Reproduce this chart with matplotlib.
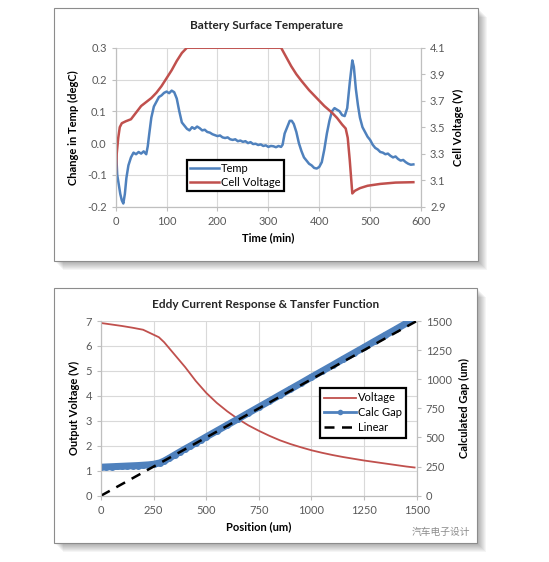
import matplotlib.pyplot as plt
from matplotlib.patches import Rectangle

# ---- data: battery surface temperature ----
temp_t = [0, 3, 6, 9, 12, 15, 18, 21, 25, 30, 35, 40, 45, 50, 55, 60, 63, 66, 70, 75,
          80, 85, 90, 95, 100, 105, 110, 115, 120, 125, 130, 135, 140, 145, 150, 155,
          160, 165, 170, 175, 180, 185, 190, 195, 200, 205, 210, 215, 220, 225, 230,
          235, 240, 245, 250, 255, 260, 265, 270, 275, 280, 285, 290, 295, 300, 305,
          310, 315, 320, 325, 328, 332, 337, 342, 346, 350, 355, 360, 365, 370, 375,
          380, 385, 390, 395, 400, 405, 410, 415, 420, 425, 430, 435, 440, 445, 450,
          455, 460, 465, 468, 472, 476, 480, 485, 490, 495, 500, 505, 510, 515, 520,
          525, 530, 535, 540, 545, 550, 555, 560, 565, 570, 575, 580, 585]
temp_v = [0.00, -0.10, -0.13, -0.16, -0.18, -0.19, -0.16, -0.11, -0.07, -0.045, -0.03,
          -0.035, -0.028, -0.033, -0.026, -0.035, -0.01, 0.03, 0.08, 0.115, 0.13, 0.145,
          0.15, 0.158, 0.162, 0.157, 0.165, 0.16, 0.14, 0.10, 0.065, 0.055, 0.045, 0.04,
          0.05, 0.045, 0.052, 0.047, 0.04, 0.042, 0.035, 0.033, 0.028, 0.025, 0.022,
          0.024, 0.018, 0.016, 0.018, 0.012, 0.01, 0.012, 0.006, 0.008, 0.004, 0.006,
          0.0, 0.003, -0.003, -0.002, -0.006, -0.004, -0.009, -0.007, -0.012, -0.009,
          -0.01, -0.013, -0.009, -0.012, -0.005, 0.03, 0.05, 0.07, 0.07, 0.06, 0.035,
          0.0, -0.025, -0.045, -0.055, -0.065, -0.07, -0.078, -0.08, -0.075, -0.06,
          -0.02, 0.03, 0.07, 0.10, 0.11, 0.105, 0.10, 0.088, 0.085, 0.11, 0.19, 0.26,
          0.24, 0.17, 0.12, 0.08, 0.05, 0.035, 0.02, 0.01, -0.005, -0.015, -0.02,
          -0.028, -0.03, -0.035, -0.033, -0.04, -0.045, -0.042, -0.05, -0.055, -0.053,
          -0.06, -0.065, -0.068, -0.067]

volt_t = [0, 2, 5, 8, 12, 20, 30, 40, 50, 60, 70, 80, 90, 100, 110, 120, 130, 140, 325,
          335, 345, 355, 365, 380, 395, 410, 425, 435, 445, 452, 456, 460, 463, 465,
          470, 480, 495, 520, 550, 585]
volt_v = [3.12, 3.3, 3.42, 3.5, 3.53, 3.545, 3.56, 3.61, 3.66, 3.69, 3.72, 3.76, 3.81,
          3.87, 3.93, 4.0, 4.06, 4.1, 4.1, 4.03, 3.96, 3.9, 3.85, 3.78, 3.72, 3.66, 3.61,
          3.57, 3.52, 3.49, 3.42, 3.25, 3.1, 3.0, 3.02, 3.04, 3.058, 3.072, 3.082, 3.085]

# ---- data: eddy current response ----
pos = [0, 50, 100, 150, 200, 250, 275, 300, 350, 400, 450, 500, 550, 600, 650, 700, 750,
       800, 850, 900, 950, 1000, 1050, 1100, 1150, 1200, 1250, 1300, 1350, 1400, 1450, 1490]
out_volt = [6.92, 6.86, 6.8, 6.73, 6.65, 6.45, 6.35, 6.15, 5.65, 5.15, 4.6, 4.12, 3.72,
            3.38, 3.08, 2.82, 2.6, 2.4, 2.22, 2.07, 1.94, 1.82, 1.72, 1.63, 1.55, 1.48,
            1.41, 1.35, 1.29, 1.23, 1.17, 1.13]
gap_pos = [0, 25, 50, 75, 100, 125, 150, 175, 200, 225, 250, 280, 300, 325, 350, 375, 400,
           425, 450, 475, 500, 550, 600, 650, 700, 750, 800, 850, 900, 950, 1000, 1050,
           1100, 1150, 1200, 1250, 1300, 1350, 1400, 1450, 1465]
calc_gap = [245, 247, 249, 251, 253, 255, 257, 259, 262, 265, 270, 282, 298, 323, 350,
            376, 402, 427, 453, 479, 505, 556, 607, 658, 710, 761, 812, 864, 915, 966,
            1018, 1069, 1120, 1172, 1223, 1274, 1326, 1377, 1428, 1480, 1498]
lin_pos = [0, 1500]
lin_gap = [0, 1500]

RED = '#C0504D'
BLUE = '#4F81BD'
TICK = '#595959'
GRID = '#d9d9d9'

plt.rcParams['font.family'] = ['Lato', 'DejaVu Sans']
W, H = 549, 562
fig = plt.figure(figsize=(W / 100, H / 100), dpi=100)


def px(x0, y0, x1, y1):
    return [x0 / W, 1 - y1 / H, (x1 - x0) / W, (y1 - y0) / H]


def panel(x0, y0, x1, y1):
    for k in range(1, 10):
        r = Rectangle(((x0 + k) / W, 1 - (y1 + k) / H), (x1 - x0) / W, (y1 - y0) / H,
                      transform=fig.transFigure, facecolor='black', alpha=0.04,
                      edgecolor='none', zorder=-20)
        fig.patches.append(r)
    r = Rectangle((x0 / W, 1 - y1 / H), (x1 - x0) / W, (y1 - y0) / H,
                  transform=fig.transFigure, facecolor='white', edgecolor='#8c8c8c',
                  lw=0.8, zorder=-10)
    fig.patches.append(r)


def style(ax):
    for s in ax.spines.values():
        s.set_color('#bfbfbf')
        s.set_linewidth(0.8)
    ax.spines['top'].set_visible(False)
    ax.tick_params(colors='#bfbfbf', labelcolor=TICK, labelsize=8, length=3, width=0.8)


panel(54, 8, 478, 261)
panel(54, 288, 477, 543)

# ---- top chart ----
ax1 = fig.add_axes(px(115.7, 47.7, 421, 206.7))
ax1.plot(temp_t, temp_v, color=BLUE, lw=1.8, label='Temp')
ax1.set_xlim(0, 600)
ax1.set_ylim(-0.2, 0.3)
ax1.set_xticks(range(0, 601, 100))
ax1.set_yticks([-0.2, -0.1, 0.0, 0.1, 0.2, 0.3])
ax1.set_yticklabels(['-0.2', '-0.1', '0.0', '0.1', '0.2', '0.3'])
ax1.grid(True, color=GRID, lw=0.8)
ax1.set_axisbelow(True)
style(ax1)
ax1.set_xlabel('Time (min)', fontsize=8, fontweight='bold', labelpad=4)
ax1.set_ylabel('Change in Temp (degC)', fontsize=8, fontweight='bold', labelpad=6)

ax1r = ax1.twinx()
ax1r.plot(volt_t, volt_v, color=RED, lw=1.8, label='Cell Voltage')
ax1r.set_ylim(2.9, 4.1)
ax1r.set_yticks([2.9, 3.1, 3.3, 3.5, 3.7, 3.9, 4.1])
style(ax1r)
ax1r.set_ylabel('Cell Voltage (V)', fontsize=8, fontweight='bold', labelpad=5)
h1, l1 = ax1.get_legend_handles_labels()
h2, l2 = ax1r.get_legend_handles_labels()
leg = ax1r.legend(h1 + h2, l1 + l2, loc='upper left', bbox_to_anchor=(186.7 / W, 1 - 160 / H),
                  bbox_transform=fig.transFigure, borderaxespad=0, fontsize=8,
                  fancybox=False, handlelength=2.6, handletextpad=0.2,
                  borderpad=0.3, labelspacing=0.25, framealpha=1)
leg.get_frame().set_edgecolor('black')
leg.get_frame().set_linewidth(1.6)
fig.text(266.7 / W, 1 - 25.5 / H, 'Battery Surface Temperature', ha='center', va='center',
         fontsize=8.5, fontweight='bold', color='#262626')

# ---- bottom chart ----
ax2 = fig.add_axes(px(101, 321, 416.7, 495.7))
ax2.plot(pos, out_volt, color=RED, lw=1.3, label='Voltage')
ax2.set_xlim(0, 1500)
ax2.set_ylim(0, 7)
ax2.set_xticks(range(0, 1501, 250))
ax2.set_yticks(range(0, 8))
ax2.grid(True, color=GRID, lw=0.8)
ax2.set_axisbelow(True)
style(ax2)
ax2.set_xlabel('Position (um)', fontsize=8, fontweight='bold', labelpad=4)
ax2.set_ylabel('Output Voltage (V)', fontsize=8, fontweight='bold', labelpad=4)

ax2r = ax2.twinx()
ax2r.plot(gap_pos, calc_gap, color=BLUE, lw=5, marker='o', ms=5, mew=0, label='Calc Gap')
ax2r.plot(lin_pos, lin_gap, color='black', lw=1.8, ls=(0, (4, 3)), label='Linear')
ax2r.set_ylim(0, 1500)
ax2r.set_yticks(range(0, 1501, 250))
style(ax2r)
ax2r.set_ylabel('Calculated Gap (um)', fontsize=8, fontweight='bold', labelpad=5)
h1, l1 = ax2.get_legend_handles_labels()
h2, l2 = ax2r.get_legend_handles_labels()
leg2 = ax2r.legend(h1 + h2, l1 + l2, loc='upper left', bbox_to_anchor=(320 / W, 1 - 388 / H),
                   bbox_transform=fig.transFigure, borderaxespad=0, fontsize=8,
                   fancybox=False, handlelength=2.8, handletextpad=0.2,
                   borderpad=0.4, labelspacing=0.35, framealpha=1, markerscale=0.8)
leg2.get_frame().set_edgecolor('black')
leg2.get_frame().set_linewidth(1.6)
for ln in leg2.get_lines():
    if ln.get_label() == 'Calc Gap':
        ln.set_linewidth(2)
fig.text(266 / W, 1 - 305 / H, 'Eddy Current Response & Tansfer Function', ha='center',
         va='center', fontsize=8.5, fontweight='bold', color='#262626')

fig.text(412 / W, 1 - 532 / H, '汽车电子设计', ha='left', va='center', fontsize=7,
         color='#8c8c8c', family=['Noto Sans CJK SC', 'DejaVu Sans'])

fig.savefig('out.png', dpi=100)
